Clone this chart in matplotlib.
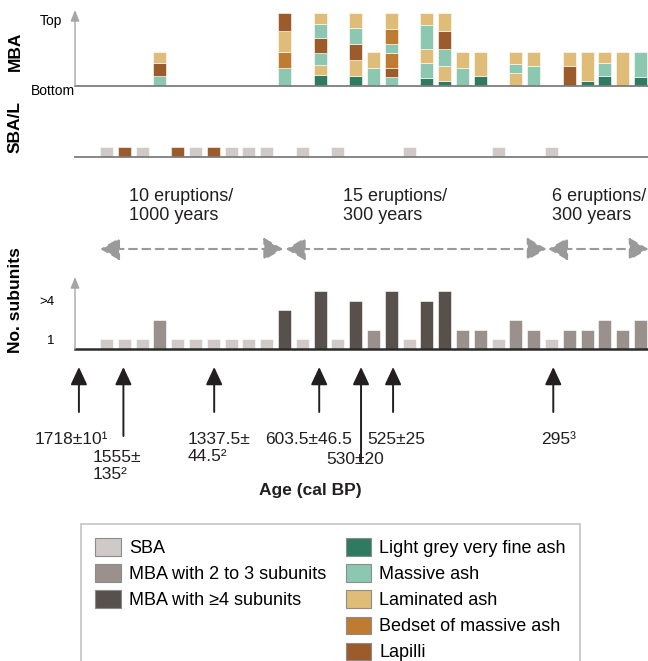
import matplotlib
matplotlib.use("Agg")
import matplotlib.pyplot as plt
from matplotlib.patches import Patch, FancyArrowPatch

plt.rcParams['font.family'] = ['Liberation Sans', 'DejaVu Sans']

# ------------------------------------------------------------------
# Data
# ------------------------------------------------------------------
# number of subunits per eruption deposit, oldest (left) to youngest
subunits = [1, 1, 1, 3, 1, 1, 1, 1, 1, 1,
            4, 1, 6, 1, 5, 2, 6, 1, 5, 6,
            2, 2, 1, 3, 2, 1, 2, 2, 3, 2, 3]

# single-bed deposits that are lapilli rather than ash
lapilli_cols = [1, 4, 6]

# MBA stacks, bottom to top: (layer, relative thickness)
mba_stacks = [
    [('MA', 30), ('L', 38), ('LA', 33)],
    [('MA', 53), ('BA', 48), ('LA', 65), ('L', 54)],
    [('LG', 33), ('LA', 29), ('MA', 36), ('L', 47), ('MA', 41), ('LA', 34)],
    [('LG', 30), ('LA', 48), ('L', 48), ('MA', 47), ('LA', 47)],
    [('MA', 55), ('LA', 46)],
    [('MA', 26), ('L', 29), ('BA', 43), ('MA', 28), ('BA', 44), ('LA', 50)],
    [('LG', 23), ('MA', 45), ('LA', 43), ('MA', 72), ('LA', 35)],
    [('LG', 16), ('LA', 44), ('MA', 50), ('L', 55), ('LA', 55)],
    [('MA', 55), ('LA', 48)],
    [('LG', 30), ('LA', 73)],
    [('LA', 38), ('MA', 28), ('LA', 35)],
    [('MA', 60), ('LA', 43)],
    [('L', 60), ('LA', 41)],
    [('LG', 16), ('LA', 85)],
    [('LG', 30), ('MA', 38), ('LA', 35)],
    [('LA', 103)],
    [('LG', 28), ('MA', 75)],
]

layer_names = ['LG', 'MA', 'LA', 'BA', 'L']
layer_labels = ['Light grey very fine ash', 'Massive ash', 'Laminated ash',
                'Bedset of massive ash', 'Lapilli']
layer_colors = ['#2e7b62', '#8cc7b1', '#dfbd78', '#bd7c32', '#9b5b2a']

class_labels = ['SBA', 'MBA with 2 to 3 subunits', 'MBA with \u22654 subunits']
class_colors = ['#cfcac7', '#9b918c', '#58504a']

# eruption-frequency periods (column spans) and their text
period_spans = [(-0.35, 9.92), (10.08, 24.72), (24.82, 30.45)]
period_text = ['10 eruptions/\n1000 years', '15 eruptions/\n300 years',
               '6 eruptions/\n300 years']

# dated horizons
date_cols = [-1.55, 0.95, 6.05, 11.95, 14.3, 16.1, 25.1]
date_labels = ['1718\u00b110\u00b9', '1555\u00b1\n135\u00b2', '1337.5\u00b1\n44.5\u00b2',
               '603.5\u00b146.5', '530\u00b120', '525\u00b125', '295\u00b3']

# ------------------------------------------------------------------
# Layout (pixels)
# ------------------------------------------------------------------
W, H = 648, 661
COL0_PX, PITCH_PX = 106.5, 17.8
X0_PX = 75
BAR_W = 0.72


def col(px):
    return (px - COL0_PX) / PITCH_PX


fig = plt.figure(figsize=(W / 100, H / 100), dpi=100)


def add_panel(bottom_px, top_px):
    ax = fig.add_axes([X0_PX / W, 1 - bottom_px / H, (W - X0_PX) / W,
                       (bottom_px - top_px) / H])
    ax.set_xlim(col(X0_PX), col(W))
    for s in ['top', 'right', 'left']:
        ax.spines[s].set_visible(False)
    ax.set_xticks([])
    ax.patch.set_alpha(0)
    return ax


def axis_arrow(ax):
    ax.annotate('', xy=(0, 1), xytext=(0, 0), xycoords='axes fraction',
                arrowprops=dict(arrowstyle='-|>,head_length=0.55,head_width=0.22',
                                mutation_scale=12, color='#a5a5a5', lw=1,
                                shrinkA=0, shrinkB=0))


color_of = dict(zip(layer_names, layer_colors))

# MBA stratigraphy
ax_mba = add_panel(86, 10)
ax_mba.set_ylim(0, 228)
ax_mba.set_yticks([])
ax_mba.spines['bottom'].set_color('#7d7d7d')
ax_mba.spines['bottom'].set_linewidth(1.3)
mba_cols = [i for i, n in enumerate(subunits) if n >= 2]
for c, stack in zip(mba_cols, mba_stacks):
    base = 0
    for layer, t in stack:
        ax_mba.bar(c, t, bottom=base, width=BAR_W, color=color_of[layer],
                   edgecolor='white', linewidth=0.4)
        base += t
axis_arrow(ax_mba)
ax_mba.text(-0.023, 0.86, 'Top', transform=ax_mba.transAxes, ha='right',
            va='center', fontsize=10)
ax_mba.text(0.0, -0.06, 'Bottom', transform=ax_mba.transAxes, ha='right',
            va='center', fontsize=10)
ax_mba.set_ylabel('MBA', fontsize=12.5, fontweight='bold')
ax_mba.yaxis.set_label_coords(-0.091, 0.45)

# single beds (SBA / lapilli)
ax_sba = add_panel(157, 137)
ax_sba.set_ylim(0, 2.1)
ax_sba.set_yticks([])
ax_sba.spines['bottom'].set_color('#7d7d7d')
ax_sba.spines['bottom'].set_linewidth(1.3)
sba_cols = [i for i, n in enumerate(subunits) if n == 1]
sba_colors = [layer_colors[4] if c in lapilli_cols else class_colors[0] for c in sba_cols]
ax_sba.bar(sba_cols, [1] * len(sba_cols), width=BAR_W, color=sba_colors,
           edgecolor='white', linewidth=0.4)
ax_sba.set_ylabel('SBA/L', fontsize=12.5, fontweight='bold')
ax_sba.yaxis.set_label_coords(-0.091, 1.5)

# number of subunits
ax_bar = add_panel(349, 277)
ax_bar.set_ylim(0, 7.45)
ax_bar.spines['bottom'].set_color('#2b2b2b')
ax_bar.spines['bottom'].set_linewidth(1.8)
bar_colors = [class_colors[0] if n == 1 else class_colors[1] if n <= 3 else class_colors[2]
              for n in subunits]
ax_bar.bar(range(len(subunits)), subunits, width=BAR_W, color=bar_colors,
           edgecolor='white', linewidth=0.4)
ax_bar.set_yticks([1, 5])
ax_bar.set_yticklabels(['1', '>4'], fontsize=9.5)
ax_bar.tick_params(axis='y', length=0, pad=15)
axis_arrow(ax_bar)
ax_bar.set_ylabel('No. subunits', fontsize=12.5, fontweight='bold')
ax_bar.yaxis.set_label_coords(-0.091, 0.68)

# annotation layer in (column, pixel) coordinates
ov = fig.add_axes([0, 0, 1, 1], zorder=-1)
ov.set_xlim(col(0), col(W))
ov.set_ylim(H, 0)
ov.axis('off')

text_left_px = [129, 343, 552]
for (a, b), txt, lx in zip(period_spans, period_text, text_left_px):
    ov.add_patch(FancyArrowPatch((a, 249), (b, 249),
                                 arrowstyle='<|-|>,head_length=0.6,head_width=0.35',
                                 mutation_scale=20, color='#9a9a9a', lw=1.5,
                                 linestyle=(0, (3.8, 2.6)), shrinkA=0, shrinkB=0))
    ov.text(col(lx), 188, txt, fontsize=13, ha='left', va='top',
            linespacing=1.15, color='#231f20')

tail_px = [412, 436, 412, 412, 462, 412, 412]
label_left_px = [35, 93, 188, 265, 326, 367, 541]
label_top_px = [432, 450, 432, 432, 452, 432, 432]
for c, t, lab, lx, ly in zip(date_cols, tail_px, date_labels, label_left_px, label_top_px):
    ov.annotate('', xy=(c, 367), xytext=(c, t),
                arrowprops=dict(arrowstyle='-|>,head_length=0.6,head_width=0.28',
                                mutation_scale=18, color='#231f20', lw=1.4,
                                shrinkA=0, shrinkB=0))
    ov.text(col(lx), ly, lab, fontsize=12.5, ha='left', va='top',
            linespacing=1.2, color='#231f20')

ov.text(col(310), 490, 'Age (cal BP)', fontsize=12.5, fontweight='bold',
        ha='center', va='center', color='#231f20')

# legend
handles = [Patch(facecolor=c, edgecolor='#8c8c8c', linewidth=0.8) for c in class_colors]
handles += [Patch(visible=False), Patch(visible=False)]
handles += [Patch(facecolor=c, edgecolor='#8c8c8c', linewidth=0.8) for c in layer_colors]
labels = class_labels + ['', ''] + layer_labels
leg = fig.legend(handles, labels, ncol=2, loc='upper left',
                 bbox_to_anchor=(81 / W, 1 - 524 / H), frameon=True, fancybox=False,
                 edgecolor='#b5b5b5', fontsize=13, handlelength=1.4,
                 handleheight=1.1, handletextpad=0.45, columnspacing=1.1,
                 labelspacing=0.4, borderpad=0.8, borderaxespad=0)
leg.get_frame().set_linewidth(1.2)

fig.savefig('out.png', dpi=100)
